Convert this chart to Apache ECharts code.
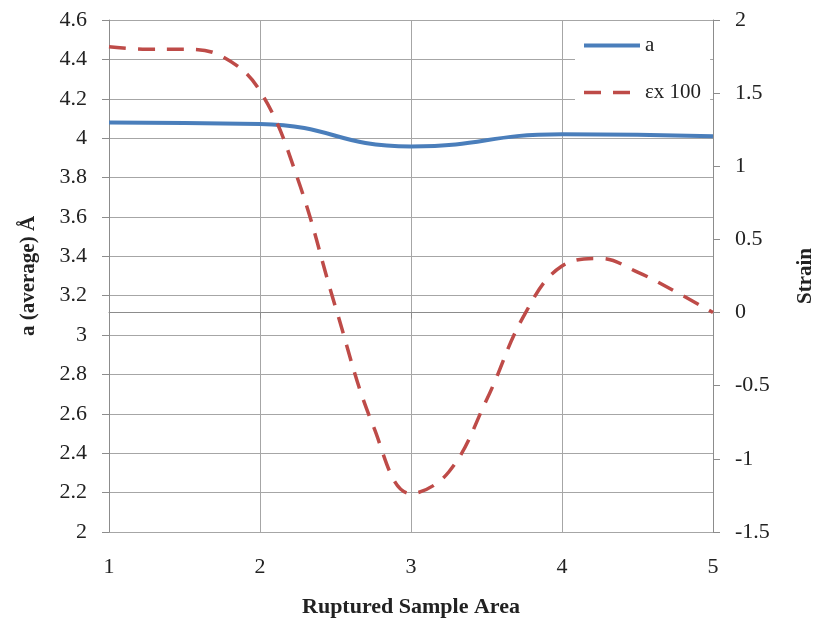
<!DOCTYPE html>
<html>
<head>
<meta charset="utf-8">
<script src="https://cdn.jsdelivr.net/npm/echarts@6/dist/echarts.min.js"></script>
<style>
html,body{margin:0;padding:0;background:#fff;}
#chart{width:817px;height:629px;}
</style>
</head>
<body>
<div id="chart"></div>
<script>
// Lattice parameter a (average), read at each sample area
var xA = [1, 2, 3, 4, 5];
var aValues = [4.08, 4.072, 3.958, 4.02, 4.01];
// Strain (x100) curve at quarter steps
var xStrain = [1, 1.25, 1.5, 1.75, 2, 2.25, 2.5, 2.75, 3, 3.25, 3.5, 3.75, 4, 4.25, 4.5, 4.75, 5];
var strainValues = [1.817, 1.80, 1.80, 1.75, 1.515, 0.913, 0.038, -0.775, -1.237, -1.09, -0.598, -0.017, 0.318, 0.37, 0.277, 0.144, 0.0];
var leftTicks = {min: 2, max: 4.6, interval: 0.2};
var rightTicks = {min: -1.5, max: 2, interval: 0.5};
var xTicks = {min: 1, max: 5, interval: 1};
var seriesNames = ['a', '\u03b5x 100'];

var FONT = '"Liberation Serif", "Times New Roman", serif';
var BLUE = '#4a7ebb', RED = '#be4b48';
var chart = echarts.init(document.getElementById('chart'), null, {renderer: 'canvas'});

function pairs(xs, ys) { return xs.map(function (x, i) { return [x, ys[i]]; }); }

chart.setOption({
  animation: false,
  backgroundColor: '#ffffff',
  grid: {left: 109, right: 104, top: 20, bottom: 97, containLabel: false, outerBoundsMode: 'none'},
  legend: {
    orient: 'vertical',
    left: 575,
    top: 27,
    padding: [8, 9, 8, 7],
    backgroundColor: '#ffffff',
    itemWidth: 56,
    itemHeight: 12,
    itemGap: 26,
    itemStyle: {opacity: 0},
    textStyle: {fontFamily: FONT, fontSize: 21, color: '#222', lineHeight: 20},
    data: [
      {name: seriesNames[0], lineStyle: {width: 4, color: BLUE, type: 'solid'}},
      {name: seriesNames[1], lineStyle: {width: 3.5, color: RED, type: [17, 12]}}
    ]
  },
  xAxis: {
    type: 'value',
    min: xTicks.min, max: xTicks.max, interval: xTicks.interval,
    name: 'Ruptured Sample Area',
    nameLocation: 'middle',
    nameGap: 64,
    nameTextStyle: {fontFamily: FONT, fontSize: 22, fontWeight: 'bold', color: '#222'},
    axisLine: {show: true, lineStyle: {color: '#8c8c8c', width: 1}},
    axisTick: {show: true, inside: false, length: 6, lineStyle: {color: '#8c8c8c'}},
    axisLabel: {fontFamily: FONT, fontSize: 22, color: '#222', margin: 24},
    splitLine: {show: true, lineStyle: {color: '#a6a6a6', width: 1}}
  },
  yAxis: [
    {
      type: 'value',
      position: 'left',
      min: leftTicks.min, max: leftTicks.max, interval: leftTicks.interval,
      name: 'a (average) \u00c5',
      nameLocation: 'middle',
      nameGap: 70,
      nameRotate: 90,
      nameTextStyle: {fontFamily: FONT, fontSize: 21, fontWeight: 'bold', color: '#222'},
      axisLine: {show: true, lineStyle: {color: '#8c8c8c', width: 1}},
      axisTick: {show: true, inside: false, length: 7, lineStyle: {color: '#8c8c8c'}},
      axisLabel: {fontFamily: FONT, fontSize: 22, color: '#222', margin: 22,
        formatter: function (v) { return String(Math.round(v * 10) / 10); }},
      splitLine: {show: true, lineStyle: {color: '#a6a6a6', width: 1}}
    },
    {
      type: 'value',
      position: 'right',
      min: rightTicks.min, max: rightTicks.max, interval: rightTicks.interval,
      name: 'Strain',
      nameLocation: 'middle',
      nameGap: 82,
      nameRotate: 90,
      nameTextStyle: {fontFamily: FONT, fontSize: 21, fontWeight: 'bold', color: '#222'},
      axisLine: {show: true, lineStyle: {color: '#8c8c8c', width: 1}},
      axisTick: {show: true, inside: false, length: 7, lineStyle: {color: '#8c8c8c'}},
      axisLabel: {fontFamily: FONT, fontSize: 22, color: '#222', margin: 22},
      splitLine: {show: false}
    }
  ],
  series: [
    {
      name: seriesNames[0],
      type: 'line',
      yAxisIndex: 0,
      data: pairs(xA, aValues),
      smooth: 0.5,
      showSymbol: false,
      symbol: 'none',
      lineStyle: {color: BLUE, width: 4},
      itemStyle: {color: BLUE},
      z: 2
    },
    {
      name: seriesNames[1],
      type: 'line',
      yAxisIndex: 1,
      data: pairs(xStrain, strainValues),
      smooth: 0.4,
      showSymbol: false,
      symbol: 'none',
      lineStyle: {color: RED, width: 3.5, type: [17, 12]},
      itemStyle: {color: RED},
      z: 3
    }
  ]
});
</script>
</body>
</html>
